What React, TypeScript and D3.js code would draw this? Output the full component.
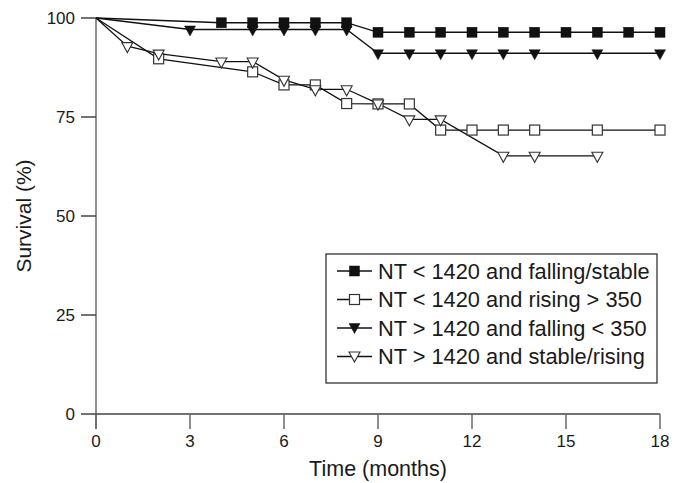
import React from "react";
import * as d3 from "d3";

const W = 681;
const H = 483;

const xTicks = [0, 3, 6, 9, 12, 15, 18];
const yTicks = [0, 25, 50, 75, 100];

// NT < 1420 and falling/stable (filled squares)
const s1Times = [0, 4, 5, 6, 7, 8, 9, 10, 11, 12, 13, 14, 15, 16, 17, 18];
const s1Surv = [100, 98.8, 98.8, 98.8, 98.8, 98.8, 96.4, 96.4, 96.4, 96.4, 96.4, 96.4, 96.4, 96.4, 96.4, 96.4];

// NT < 1420 and rising > 350 (open squares)
const s2Times = [0, 2, 5, 6, 7, 8, 9, 10, 11, 12, 13, 14, 16, 18];
const s2Surv = [100, 89.7, 86.4, 83.1, 83.1, 78.4, 78.3, 78.3, 71.7, 71.7, 71.7, 71.7, 71.7, 71.7];

// NT > 1420 and falling < 350 (filled triangles)
const s3Times = [0, 3, 5, 6, 7, 8, 9, 10, 11, 12, 13, 14, 16, 18];
const s3Surv = [100, 97.1, 97.1, 97.1, 97.1, 97.1, 91.1, 91.1, 91.1, 91.1, 91.1, 91.1, 91.1, 91.1];

// NT > 1420 and stable/rising (open triangles)
const s4Times = [0, 1, 2, 4, 5, 6, 7, 8, 9, 10, 11, 13, 14, 16];
const s4Surv = [100, 92.9, 91.0, 89.0, 89.0, 84.4, 82.0, 82.0, 78.4, 74.4, 74.4, 65.2, 65.2, 65.2];

const legendLabels = [
  "NT < 1420 and falling/stable",
  "NT < 1420 and rising > 350",
  "NT > 1420 and falling < 350",
  "NT > 1420 and stable/rising",
];

type Kind = "sqFill" | "sqOpen" | "triFill" | "triOpen";
const kinds: Kind[] = ["sqFill", "sqOpen", "triFill", "triOpen"];

const FONT = "'Liberation Sans', Arial, Helvetica, sans-serif";

function Marker({ kind, x, y }: { kind: Kind; x: number; y: number }) {
  if (kind === "sqFill" || kind === "sqOpen") {
    return (
      <rect
        x={x - 5}
        y={y - 5}
        width={10}
        height={10}
        fill={kind === "sqFill" ? "#111" : "#fff"}
        stroke={kind === "sqFill" ? "#111" : "#333"}
        strokeWidth={kind === "sqFill" ? 0.5 : 1.2}
      />
    );
  }
  const p = `M${x - 5.5},${y - 3.5}L${x + 5.5},${y - 3.5}L${x},${y + 6.5}Z`;
  return (
    <path
      d={p}
      fill={kind === "triFill" ? "#111" : "#fff"}
      stroke={kind === "triFill" ? "#111" : "#333"}
      strokeWidth={kind === "triFill" ? 0.5 : 1.1}
      strokeLinejoin="miter"
    />
  );
}

export default function App() {
  const x = d3.scaleLinear().domain([0, 18]).range([96, 660]);
  const y = d3.scaleLinear().domain([0, 100]).range([414, 18]);

  const series = [
    { t: s1Times, s: s1Surv, kind: kinds[0] },
    { t: s3Times, s: s3Surv, kind: kinds[2] },
    { t: s2Times, s: s2Surv, kind: kinds[1] },
    { t: s4Times, s: s4Surv, kind: kinds[3] },
  ];

  const line = d3
    .line<[number, number]>()
    .x((d) => x(d[0]))
    .y((d) => y(d[1]));

  const axisColor = "#6a6a6a";

  const legX = 326;
  const legY = 254;
  const legW = 331;
  const legH = 129;
  const rowY = [271, 299.5, 328, 356.5];

  return (
    <svg
      width={W}
      height={H}
      viewBox={`0 0 ${W} ${H}`}
      style={{ position: "absolute", left: 0, top: 0, background: "#fff" }}
      fontFamily={FONT}
    >
      {/* axes */}
      <line x1={x(0)} x2={x(0)} y1={y(100)} y2={y(0) + 15} stroke={axisColor} strokeWidth={1.5} />
      <line x1={x(0)} x2={x(18)} y1={y(0)} y2={y(0)} stroke="#444" strokeWidth={1.5} />
      {yTicks.map((v) => (
        <g key={"y" + v}>
          <line x1={x(0) - 15} x2={x(0)} y1={y(v)} y2={y(v)} stroke="#444" strokeWidth={1.5} />
          <text x={x(0) - 21} y={y(v)} dy="0.35em" textAnchor="end" fontSize={17} fill="#1a1a1a">
            {v}
          </text>
        </g>
      ))}
      {xTicks.map((v) => (
        <g key={"x" + v}>
          <line x1={x(v)} x2={x(v)} y1={y(0)} y2={y(0) + 15} stroke={axisColor} strokeWidth={1.5} />
          <text x={x(v)} y={447} textAnchor="middle" fontSize={17} fill="#1a1a1a">
            {v}
          </text>
        </g>
      ))}
      <text x={378} y={476} textAnchor="middle" fontSize={21.5} fill="#1a1a1a">
        Time (months)
      </text>
      <text
        transform={`translate(31,216) rotate(-90)`}
        textAnchor="middle"
        fontSize={21}
        fill="#1a1a1a"
      >
        Survival (%)
      </text>

      {/* lines */}
      {series.map((se, i) => (
        <path
          key={"l" + i}
          d={line(se.t.map((t, j) => [t, se.s[j]] as [number, number])) || ""}
          fill="none"
          stroke="#111"
          strokeWidth={1.3}
        />
      ))}
      {/* markers */}
      {series.map((se, i) => (
        <g key={"m" + i}>
          {se.t.map((t, j) =>
            j === 0 ? null : <Marker key={j} kind={se.kind} x={x(t)} y={y(se.s[j])} />
          )}
        </g>
      ))}

      {/* legend */}
      <rect x={legX} y={legY} width={legW} height={legH} fill="#fff" stroke="#222" strokeWidth={1.2} />
      {legendLabels.map((lab, i) => (
        <g key={"lg" + i}>
          <line x1={337} x2={372} y1={rowY[i]} y2={rowY[i]} stroke="#111" strokeWidth={1.4} />
          <Marker kind={kinds[i]} x={354.5} y={kinds[i].startsWith("tri") ? rowY[i] - 1 : rowY[i]} />
          <text x={378} y={rowY[i]} dy="0.36em" fontSize={21.8} fill="#1a1a1a">
            {lab}
          </text>
        </g>
      ))}
    </svg>
  );
}
